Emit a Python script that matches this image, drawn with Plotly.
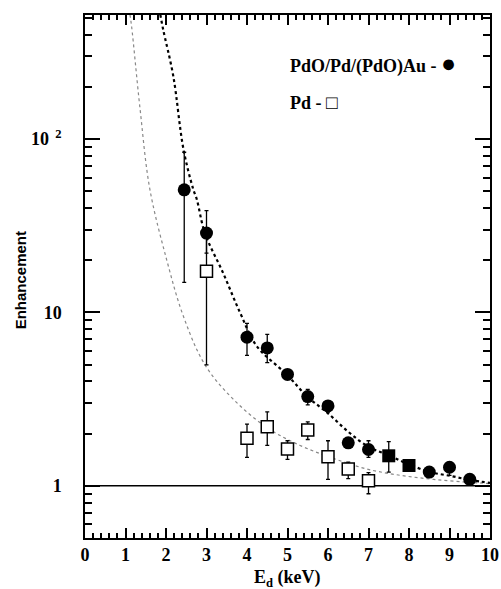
import numpy as np
import plotly.graph_objects as go

# PdO/Pd/(PdO)Au data (filled circles)
au_e = [2.45, 3.0, 4.0, 4.5, 5.0, 5.5, 6.0, 6.5, 7.0, 7.5, 8.0, 8.5, 9.0, 9.5]
au_enh = [51, 28.7, 7.2, 6.24, 4.39, 3.27, 2.89, 1.77, 1.62, 1.49, 1.31, 1.2, 1.28, 1.09]
au_hi = [84, 38.7, 8.65, 7.48, 4.39, 3.6, 2.95, 1.77, 1.82, 1.80, 1.31, 1.2, 1.37, 1.16]
au_lo = [14.9, 22, 5.66, 5.14, 4.39, 2.93, 2.66, 1.77, 1.46, 1.20, 1.31, 1.2, 1.15, 1.02]
au_sym = ["circle"] * 9 + ["square", "square", "circle", "circle", "circle"]

# Pd data (open squares)
pd_e = [3.0, 4.0, 4.5, 5.0, 5.5, 6.0, 6.5, 7.0]
pd_enh = [17.3, 1.88, 2.19, 1.63, 2.1, 1.47, 1.25, 1.07]
pd_hi = [28.7, 2.27, 2.67, 1.82, 2.34, 1.82, 1.37, 1.19]
pd_lo = [4.98, 1.46, 1.71, 1.42, 1.85, 1.09, 1.1, 0.9]

# fitted curves
fit_au_e = [1.86, 1.93, 2.18, 2.43, 2.67, 2.76, 2.96, 3.41, 3.83, 4.24, 4.98, 5.49,
            6.0, 6.5, 7.0, 7.5, 8.0, 8.52, 9.03, 9.52, 10.0]
fit_au_enh = [522, 429, 231, 87.7, 51.6, 45, 28.7, 16.9, 9.96, 6.4, 4.39, 3.27,
              2.62, 2.05, 1.68, 1.5, 1.33, 1.2, 1.14, 1.08, 1.04]
fit_pd_e = [1.11, 1.15, 1.36, 1.60, 2.02, 2.43, 2.96, 3.66, 4.49, 5.31, 6.13, 6.96,
            7.78, 8.6, 9.42, 10.0]
fit_pd_enh = [522, 448, 149, 51.6, 20, 9.5, 5.0, 3.16, 2.17, 1.71, 1.44, 1.25,
              1.15, 1.09, 1.05, 1.03]

legend_labels = ["PdO/Pd/(PdO)Au -", "Pd -"]
legend_glyphs = ["●", "□"]
y_tickvals = [1, 10, 100]
y_ticktext = ["1", "10", "10<sup>  2</sup>"]
y_minor = [0.6, 0.7, 0.8, 0.9, 2, 3, 4, 5, 6, 7, 8, 9,
           20, 30, 40, 50, 60, 70, 80, 90, 200, 300, 400, 500]

serif = "Liberation Serif"
yr = [np.log10(0.5), np.log10(520)]

fig = go.Figure()

fig.add_trace(go.Scatter(x=fit_pd_e, y=fit_pd_enh, mode="lines", line_shape="spline",
                         line=dict(color="#888", width=1.2, dash="dot")))
fig.add_trace(go.Scatter(x=fit_au_e, y=fit_au_enh, mode="lines", line_shape="spline",
                         line=dict(color="black", width=2.2, dash="dot")))
fig.add_trace(go.Scatter(x=[0, 10], y=[1, 1], mode="lines",
                         line=dict(color="black", width=1.5)))

fig.add_trace(go.Scatter(
    x=pd_e, y=pd_enh, mode="markers",
    marker=dict(symbol="square", size=12, color="white", line=dict(color="black", width=1.5)),
    error_y=dict(type="data", symmetric=False,
                 array=list(np.array(pd_hi) - np.array(pd_enh)),
                 arrayminus=list(np.array(pd_enh) - np.array(pd_lo)),
                 color="black", thickness=1.3, width=2)))

fig.add_trace(go.Scatter(
    x=au_e, y=au_enh, mode="markers",
    marker=dict(symbol=au_sym, size=13, color="black"),
    error_y=dict(type="data", symmetric=False,
                 array=list(np.array(au_hi) - np.array(au_enh)),
                 arrayminus=list(np.array(au_enh) - np.array(au_lo)),
                 color="black", thickness=1.3, width=2)))

# legend-like labels, text followed by the marker glyph
for lab, glyph, gsize, ypos in zip(legend_labels, legend_glyphs, [25, 19], [0.908, 0.832]):
    fig.add_annotation(x=0.5, y=ypos, xref="paper", yref="paper",
                       xanchor="left", yanchor="middle", showarrow=False,
                       text="<b>%s</b> <span style='font-size:%dpx'>%s</span>" % (lab, gsize, glyph),
                       font=dict(family=serif, size=18, color="black"))

# axis titles
fig.add_annotation(x=-0.16, y=0.493, xref="paper", yref="paper", textangle=-90,
                   xanchor="center", yanchor="middle",
                   text="<b>Enhancement</b>", showarrow=False,
                   font=dict(family="Liberation Sans", size=15, color="black"))
fig.add_annotation(x=0.5, y=-0.077, xref="paper", yref="paper",
                   xanchor="center", yanchor="middle",
                   text="<b>E<sub>d</sub> (keV)</b>", showarrow=False,
                   font=dict(family=serif, size=18, color="black"))

axis_common = dict(showline=True, linecolor="black", linewidth=1.5, showgrid=False,
                   zeroline=False, tickcolor="black", tickwidth=1.5, ticks="inside")
tick_font = dict(family=serif, size=18, color="black", weight="bold")

fig.update_layout(
    xaxis=dict(range=[0, 10], dtick=1, ticklen=10, automargin=False,
               minor=dict(ticks="inside", ticklen=5, dtick=0.2, tickcolor="black"),
               tickfont=tick_font, **axis_common),
    xaxis2=dict(range=[0, 10], dtick=1, ticklen=10, overlaying="x", side="top",
                showticklabels=False, automargin=False,
                minor=dict(ticks="inside", ticklen=5, dtick=0.2, tickcolor="black"),
                **axis_common),
    yaxis=dict(type="log", range=yr, tickvals=y_tickvals, ticktext=y_ticktext,
               ticklen=15, ticklabelstandoff=18, automargin=False,
               minor=dict(ticks="inside", ticklen=7, tickcolor="black", tickvals=y_minor),
               tickfont=tick_font, **axis_common),
    yaxis2=dict(type="log", range=yr, tickvals=y_tickvals, overlaying="y", side="right",
                ticklen=15, showticklabels=False, automargin=False,
                minor=dict(ticks="inside", ticklen=7, tickcolor="black", tickvals=y_minor),
                **axis_common),
    width=501, height=589, showlegend=False,
    plot_bgcolor="white", paper_bgcolor="white",
    margin=dict(l=85, r=11, t=15, b=51),
)

# invisible trace so the mirrored axes are drawn
fig.add_trace(go.Scatter(x=[None], y=[None], xaxis="x2", yaxis="y2", showlegend=False))

fig.write_html("out.html", config={"displayModeBar": False},
               post_script="document.body.style.margin = '0';")
